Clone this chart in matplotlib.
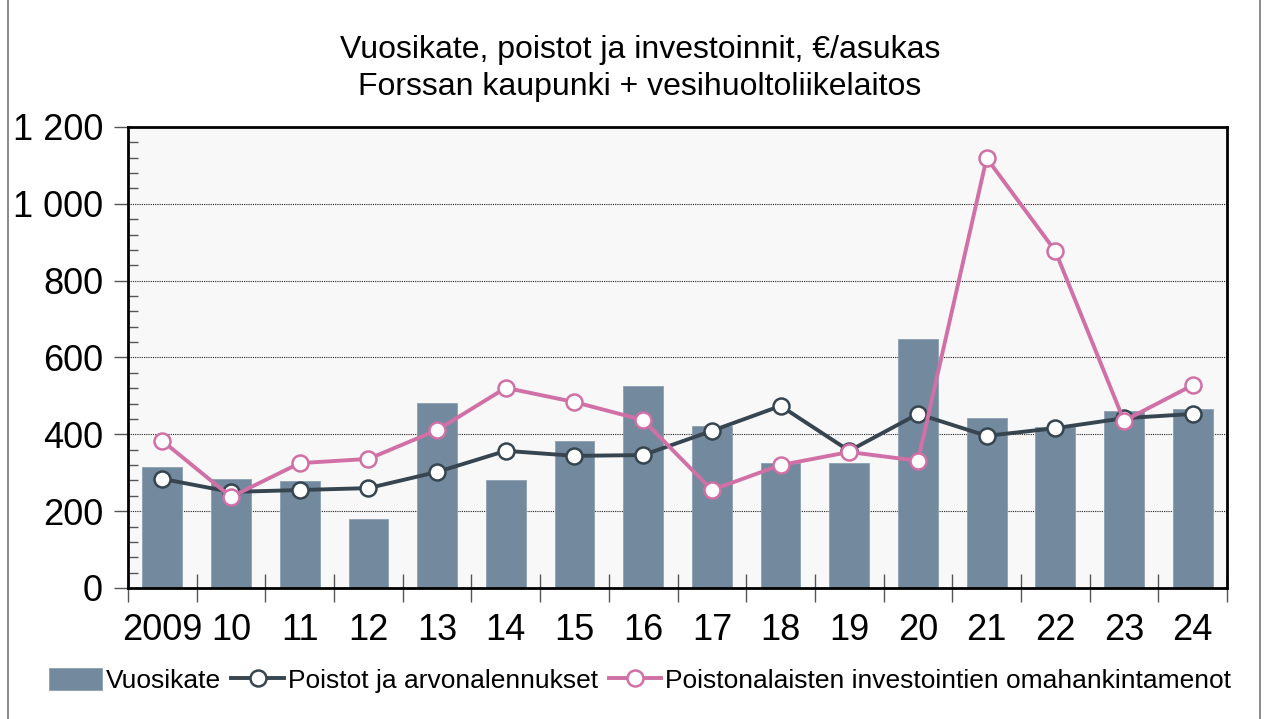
import matplotlib.pyplot as plt
from matplotlib.patches import Rectangle
from matplotlib.ticker import MultipleLocator, FuncFormatter
import numpy as np

plt.rcParams['font.family'] = ['Liberation Sans', 'DejaVu Sans']

# Data
years = ['2009', '10', '11', '12', '13', '14', '15', '16', '17', '18', '19', '20', '21', '22', '23', '24']
vuosikate = [315, 284, 278, 180, 481, 281, 383, 526, 422, 325, 325, 648, 442, 419, 461, 466]
poistot = [284, 250, 255, 260, 302, 357, 344, 346, 409, 474, 357, 453, 396, 416, 442, 453]
investoinnit = [383, 237, 325, 336, 411, 521, 484, 437, 255, 320, 354, 331, 1119, 877, 435, 528]

bar_color = '#738a9e'
dark_color = '#36454f'
pink_color = '#d070a6'

fig = plt.figure(figsize=(12.65, 7.19), dpi=100)
ax = fig.add_axes([0.1012, 0.1822, 0.8688, 0.6412])
ax.set_facecolor('#f8f8f8')

x = np.arange(len(years))
bars = ax.bar(x, vuosikate, width=0.58, color=bar_color, edgecolor='#8da0b0', linewidth=0.6,
              label='Vuosikate', zorder=2)
l1, = ax.plot(x, poistot, color=dark_color, lw=2.8, marker='o', markersize=11.5,
              markerfacecolor='white', markeredgecolor=dark_color, markeredgewidth=1.8,
              label='Poistot ja arvonalennukset', zorder=3)
l2, = ax.plot(x, investoinnit, color=pink_color, lw=2.8, marker='o', markersize=11.5,
              markerfacecolor='white', markeredgecolor=pink_color, markeredgewidth=1.8,
              label='Poistonalaisten investointien omahankintamenot', zorder=4)

ax.set_xlim(-0.5, len(years) - 0.5)
ax.set_ylim(0, 1200)

# y axis
ax.yaxis.set_major_locator(MultipleLocator(200))
ax.yaxis.set_minor_locator(MultipleLocator(40))
ax.yaxis.set_major_formatter(FuncFormatter(lambda v, p: f'{int(v):,}'.replace(',', ' ')))
ax.tick_params(axis='y', which='major', direction='out', length=10, width=1, color='#555555',
               labelsize=26, pad=8)
ax.tick_params(axis='y', which='minor', direction='in', length=7, width=1, color='#555555')
ax.grid(axis='y', which='major', linestyle=(0, (1, 1)), color='#222222', lw=0.8, zorder=1)

# x axis: labels at centres, ticks between categories
ax.set_xticks(x)
ax.set_xticklabels(years)
ax.set_xticks(np.arange(-0.5, len(years)), minor=True)
ax.tick_params(axis='x', which='major', length=0, labelsize=26, pad=18)
ax.tick_params(axis='x', which='minor', direction='inout', length=20, width=1, color='#555555')

for s in ax.spines.values():
    s.set_linewidth(2)
    s.set_color('black')

fig.text(0.506, 0.905, 'Vuosikate, poistot ja investoinnit, €/asukas\nForssan kaupunki + vesihuoltoliikelaitos',
         ha='center', va='center', fontsize=23, linespacing=1.3)

fig.legend([bars, l1, l2], [bars.get_label(), l1.get_label(), l2.get_label()],
           loc='center', bbox_to_anchor=(0.506, 0.054), ncol=3, frameon=False, fontsize=19,
           handlelength=2.0, handletextpad=0.15, columnspacing=0.4, handleheight=0.9)

# figure border
fig.patches.append(Rectangle((0.006, -0.01), 0.99, 1.02, transform=fig.transFigure,
                             fill=False, edgecolor='#777777', lw=1.2))

fig.savefig('out.png', dpi=100)
